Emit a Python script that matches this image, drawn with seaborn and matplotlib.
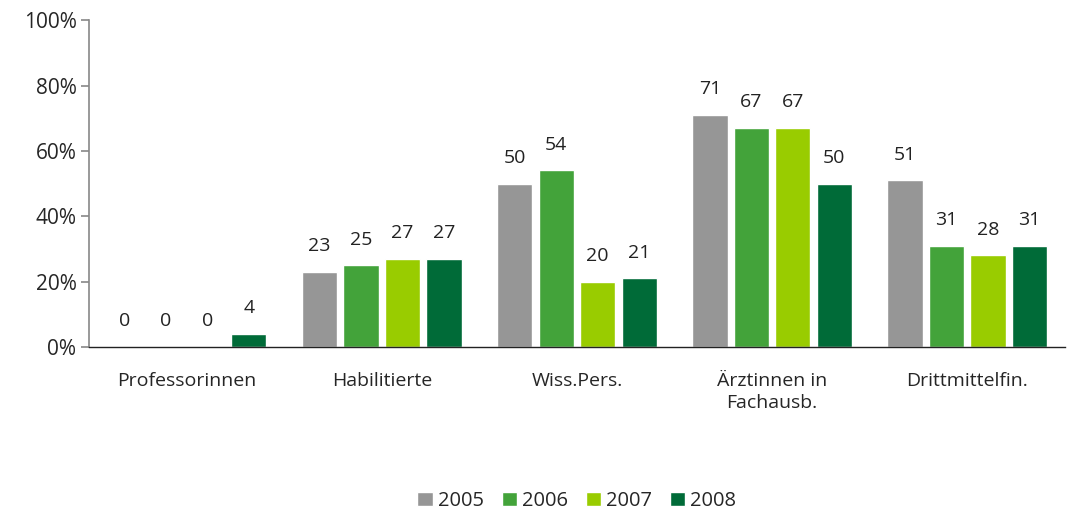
import pandas as pd
import matplotlib.pyplot as plt
import seaborn as sns
from matplotlib.ticker import FixedLocator

# Data
categories = ["Professorinnen", "Habilitierte", "Wiss.Pers.", "Ärztinnen in\nFachausb.", "Drittmittelfin."]
years = ["2005", "2006", "2007", "2008"]
v2005 = [0, 23, 50, 71, 51]
v2006 = [0, 25, 54, 67, 31]
v2007 = [0, 27, 20, 67, 28]
v2008 = [4, 27, 21, 50, 31]
colors = ["#969696", "#43A33A", "#99CC00", "#006B38"]

rows = []
for year, vals in zip(years, [v2005, v2006, v2007, v2008]):
    for cat, v in zip(categories, vals):
        rows.append({"Kategorie": cat, "Jahr": year, "Wert": v})
df = pd.DataFrame(rows)

sns.set_style("white")
plt.rcParams["font.family"] = ["Open Sans", "DejaVu Sans"]

fig = plt.figure(figsize=(10.67, 5.16), dpi=100)
ax = fig.add_axes([0.0834, 0.3275, 0.9146, 0.6335])

sns.barplot(data=df, x="Kategorie", y="Wert", hue="Jahr", palette=colors,
            width=0.85, gap=0.15, saturation=1, ax=ax, errorbar=None)

# value labels above bars
for container in ax.containers:
    for bar in container:
        h = bar.get_height()
        ax.annotate(f"{h:.0f}", (bar.get_x() + bar.get_width() / 2, h),
                    xytext=(0, 12), textcoords="offset points",
                    ha="center", va="bottom", fontsize=14, color="#222222")

ax.set_ylim(0, 100)
ax.set_xlim(-0.5, len(categories) - 0.5)
ax.set_yticks([0, 20, 40, 60, 80, 100])
ax.set_yticklabels([f"{t}%" for t in [0, 20, 40, 60, 80, 100]], fontsize=15)
ax.set_xticks(range(len(categories)))
ax.set_xticklabels(categories, fontsize=14, linespacing=1.3)
ax.tick_params(axis="x", which="major", length=0, pad=18)
ax.xaxis.set_minor_locator(FixedLocator([0.5, 1.5, 2.5, 3.5]))
ax.tick_params(axis="x", which="minor", length=6, color="#888888", width=1.2, direction="out")
ax.tick_params(axis="y", length=6, color="#888888", width=1.2, direction="out", left=True, pad=3)
ax.set_xlabel("")
ax.set_ylabel("")

for s in ["top", "right"]:
    ax.spines[s].set_visible(False)
ax.spines["left"].set_color("#888888")
ax.spines["left"].set_linewidth(1.2)
ax.spines["bottom"].set_color("#222222")
ax.spines["bottom"].set_linewidth(1.0)

ax.legend(loc="upper center", bbox_to_anchor=(0.5, -0.385), ncol=4, frameon=False,
          fontsize=14.5, handlelength=0.75, handleheight=0.75, handletextpad=0.25,
          columnspacing=0.9)

fig.savefig("out.png", dpi=100)
